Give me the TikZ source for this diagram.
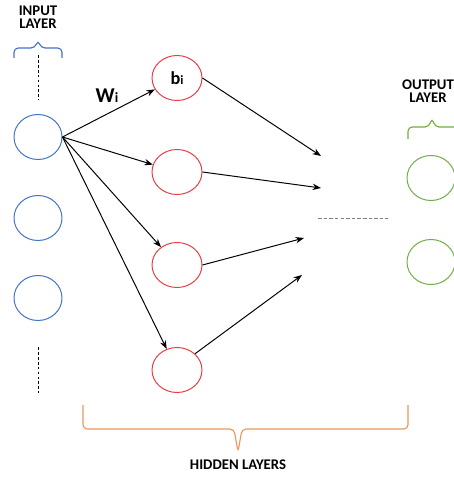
\documentclass[tikz,border=0pt]{standalone}
\usepackage{fontspec}
\setmainfont{Carlito}
\usetikzlibrary{positioning, calc, shapes.geometric, arrows.meta}

\definecolor{inblue}{RGB}{68,114,196}
\definecolor{hidred}{RGB}{230,60,70}
\definecolor{outgreen}{RGB}{112,173,71}
\definecolor{braceorange}{RGB}{237,150,90}

\begin{document}
\begin{tikzpicture}[x=0.25mm, y=-0.25mm,
    neuron/.style={ellipse, draw, line width=0.7pt, minimum width=12mm, minimum height=11.25mm, inner sep=0pt},
    wire/.style={-{Stealth[length=6pt, width=4.5pt]}, line width=0.7pt},
    bracepath/.style={line width=0.8pt, rounded corners=3pt},
    title/.style={font=\fontsize{10.5}{11}\selectfont\bfseries, align=center}]
    \useasboundingbox (0,0) rectangle (453,478);
    % input layer
    \node[neuron, draw=inblue] (in1) at (38,137) {};
    \node[neuron, draw=inblue] (in2) at (38,218) {};
    \node[neuron, draw=inblue] (in3) at (38,298) {};
    \draw[dashed, line width=0.7pt, dash pattern=on 2pt off 1.5pt] (38,55) -- (38,100);
    \draw[dashed, line width=0.7pt, dash pattern=on 2pt off 1.5pt] (38,347) -- (38,393);
    \draw[bracepath, inblue] (14,58) -- (14,48) -- (35,48) -- (38,40) -- (41,48) -- (62,48) -- (62,58);
    \node[title] (inlabel) at (38,17) {INPUT\\[-2pt]LAYER};
    % hidden layer
    \node[neuron, draw=hidred, minimum width=12.5mm] (h1) at (177,78) {\fontsize{13}{13}\selectfont\bfseries b\fontsize{9}{9}\selectfont i};
    \node[neuron, draw=hidred, minimum width=12.5mm] (h2) at (177,172) {};
    \node[neuron, draw=hidred, minimum width=12.5mm] (h3) at (177,265) {};
    \node[neuron, draw=hidred, minimum width=12.5mm] (h4) at (177,370) {};
    \node (wlabel) at (107,96) {\fontsize{15}{15}\selectfont\bfseries W\fontsize{10}{10}\selectfont i};
    \foreach \h in {h1,h2,h3,h4}
        \draw[wire] (in1.east) -- (\h);
    % arrows to the next layer
    \coordinate (e1) at (321,156);
    \coordinate (e2) at (321,188);
    \coordinate (e3) at (304,238);
    \coordinate (e4) at (302,275);
    \draw[wire] (h1.east) -- (e1);
    \draw[wire] (h2.east) -- (e2);
    \draw[wire] (h3.east) -- (e3);
    \draw[wire] (h4.north east) -- (e4);
    \draw[dashed, gray, line width=0.5pt, dash pattern=on 2.5pt off 1.5pt] (318,218) -- (388,218);
    % output layer
    \node[neuron, draw=outgreen] (out1) at (431,178) {};
    \node[neuron, draw=outgreen] (out2) at (431,262) {};
    \draw[bracepath, outgreen] (408,139) -- (408,127) -- (429,127) -- (432,118) -- (435,127) -- (470,127);
    \node[title] (outlabel) at (428,91) {OUTPUT\\[-2pt]LAYER};
    % hidden brace
    \draw[bracepath, braceorange] (83,405) -- (83,429) -- (234,429) -- (238,452) -- (242,429) -- (408,429) -- (408,405);
    \node[title] (hidlabel) at (238,465) {HIDDEN LAYERS};
\end{tikzpicture}
\end{document}
